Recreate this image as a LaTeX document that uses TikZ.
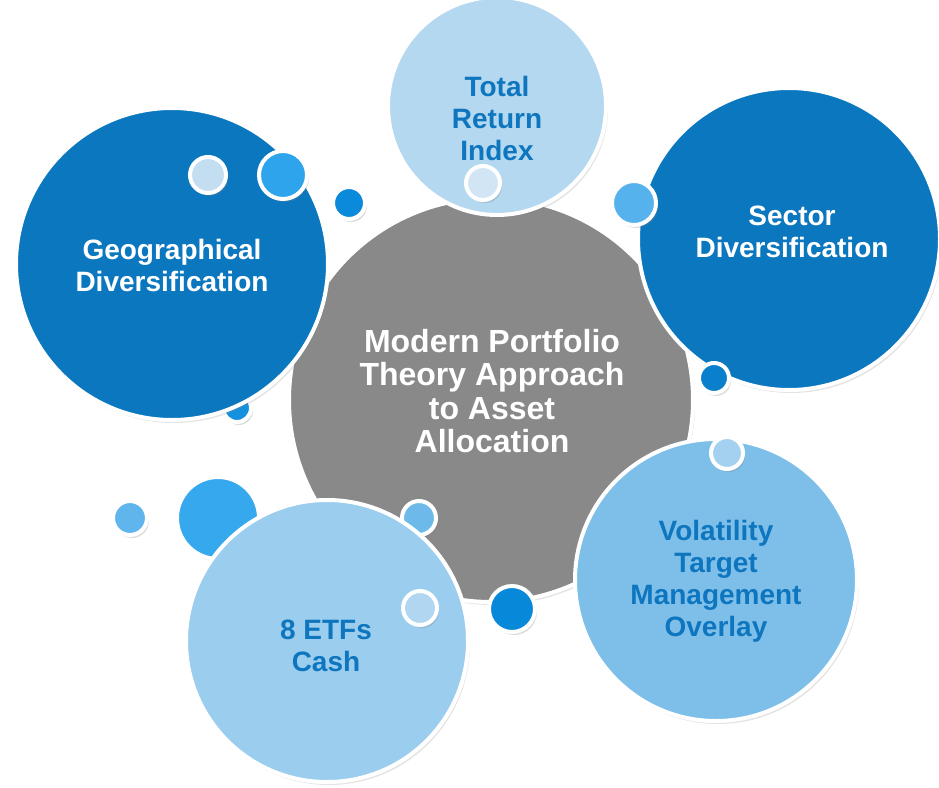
\documentclass[tikz,border=0pt]{standalone}
\usepackage{fontspec}
\setmainfont{Liberation Sans}
\usetikzlibrary{shadows}
\definecolor{cdark}{HTML}{0A77BF}
\definecolor{ctri}{HTML}{B4D8F0}
\definecolor{cgray}{HTML}{898989}
\definecolor{cvol}{HTML}{7EBFEA}
\definecolor{cetf}{HTML}{9BCDEE}
\definecolor{ctext}{HTML}{0E76BE}
\tikzset{
  bub/.style={circle, draw=white, line width=4pt, inner sep=0pt, minimum size=#1,
    drop shadow={opacity=0.22, shadow xshift=2pt, shadow yshift=-3pt}},
  dot/.style={circle, draw=white, line width=4pt, inner sep=0pt, minimum size=#1,
    drop shadow={opacity=0.28, shadow xshift=2pt, shadow yshift=-3pt}},
  lbl/.style={font=\bfseries\fontsize{28}{32}\selectfont, align=center, inner sep=0pt},
  biglbl/.style={font=\bfseries\fontsize{32}{33.3}\selectfont, align=center, inner sep=0pt},
}
\begin{document}
\begin{tikzpicture}[x=1pt,y=-1pt]
\useasboundingbox (0,0) rectangle (939,787);
% center
\node[bub=404, fill=cgray] (center) at (491,400) {};
\node[dot=28, fill={rgb,255:red,21;green,145;blue,224}] (s8) at (237,408) {};
% geographical
\node[bub=312, fill=cdark] (geo) at (172,264) {};
\node[dot=36, fill={rgb,255:red,196;green,222;blue,241}] (s1) at (208,175) {};
\node[dot=48, fill={rgb,255:red,45;green,164;blue,236}] (s2) at (283,175) {};
\node[dot=32, fill={rgb,255:red,11;green,138;blue,219}] (s3) at (349,203) {};
% total return
\node[bub=218, fill=ctri] (tri) at (497,106) {};
\node[dot=34, fill={rgb,255:red,210;green,229;blue,244}] (s4) at (483,183) {};
% sector
\node[bub=302, fill=cdark] (sec) at (789,239) {};
\node[dot=44, fill={rgb,255:red,85;green,178;blue,236}] (s5) at (634,203) {};
\node[dot=30, fill={rgb,255:red,10;green,127;blue,203}] (s6) at (714,378) {};
% volatility
\node[bub=282, fill=cvol] (vol) at (716,580) {};
\node[dot=32, fill={rgb,255:red,165;green,209;blue,240}] (s7) at (727,453) {};
% etfs
\node[dot=82, fill={rgb,255:red,53;green,168;blue,238}] (s9) at (218,518) {};
\node[dot=34, fill={rgb,255:red,96;green,181;blue,236}] (s10) at (130,518) {};
\node[dot=34, fill={rgb,255:red,109;green,186;blue,234}] (s11) at (419,518) {};
\node[bub=282, fill=cetf] (etf) at (327,641) {};
\node[dot=34, fill={rgb,255:red,176;green,214;blue,241}] (s12) at (420,608) {};
\node[dot=46, fill={rgb,255:red,8;green,136;blue,216}] (s13) at (512,609) {};
% labels
\node[biglbl, text=white] (tcenter) at (492,391) {Modern Portfolio\\Theory Approach\\to Asset\\Allocation};
\node[lbl, text=ctext] (ttri) at (497,118) {Total\\Return\\Index};
\node[lbl, text=white] (tsec) at (792,232) {Sector\\Diversification};
\node[lbl, text=white] (tgeo) at (172,265) {Geographical\\Diversification};
\node[lbl, text=ctext] (tvol) at (716,581) {Volatility\\Target\\Management\\Overlay};
\node[lbl, text=ctext] (tetf) at (326,646) {8 ETFs\\Cash};
\end{tikzpicture}
\end{document}
